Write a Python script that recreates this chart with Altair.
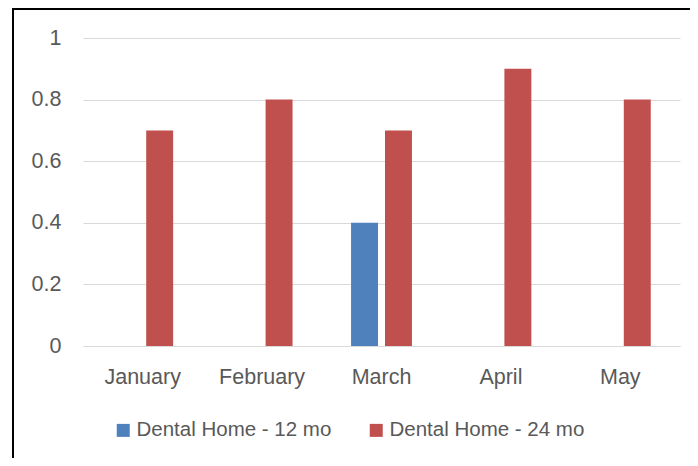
import altair as alt
import pandas as pd

months = ["January", "February", "March", "April", "May"]
series = ["Dental Home - 12 mo", "Dental Home - 24 mo"]
vals_12 = [None, None, 0.4, None, None]
vals_24 = [0.7, 0.8, 0.7, 0.9, 0.8]
colors = ["#4F81BD", "#C0504D"]

rows = []
for m, v in zip(months, vals_12):
    if v is not None:
        rows.append({"month": m, "series": series[0], "value": v})
for m, v in zip(months, vals_24):
    if v is not None:
        rows.append({"month": m, "series": series[1], "value": v})
df = pd.DataFrame(rows)

FONT = "Liberation Sans"
TXT = "#595959"
FS = 21.5

bars = alt.Chart(df).mark_bar(clip=False).encode(
    x=alt.X("month:N", sort=months, scale=alt.Scale(domain=months, paddingInner=0.49, paddingOuter=0.245),
            axis=alt.Axis(title=None, labelAngle=0, labelFont=FONT, labelFontSize=FS, labelColor=TXT,
                          labelPadding=20, ticks=False, domainColor="#d9d9d9", domainWidth=1)),
    xOffset=alt.XOffset("series:N", scale=alt.Scale(domain=series, paddingInner=0.206, paddingOuter=0)),
    y=alt.Y("value:Q", scale=alt.Scale(domain=[0, 1], nice=False),
            axis=alt.Axis(title=None, values=[0, 0.2, 0.4, 0.6, 0.8, 1], format="~g", labelFont=FONT,
                          labelFontSize=FS, labelColor=TXT, labelPadding=22, ticks=False, domain=False,
                          gridColor="#d9d9d9", gridWidth=1)),
    color=alt.Color("series:N", scale=alt.Scale(domain=series, range=colors),
                    legend=alt.Legend(title=None, orient="none", legendX=30, legendY=382, direction="horizontal",
                                      symbolType="square", symbolSize=169, symbolStrokeWidth=0,
                                      labelFont=FONT, labelFontSize=20.5, labelColor=TXT, labelOffset=3,
                                      labelLimit=0, columnPadding=34, padding=0)),
)

left_line = alt.Chart(pd.DataFrame({"a": [0]})).mark_rule(color="black", strokeWidth=2, clip=False).encode(
    x=alt.value(-70), y=alt.value(-30), y2=alt.value(500)
)
top_line = alt.Chart(pd.DataFrame({"a": [0]})).mark_rule(color="black", strokeWidth=2, clip=False).encode(
    x=alt.value(-71), x2=alt.value(700), y=alt.value(-29)
)

chart = alt.layer(bars, left_line, top_line).properties(
    width=597, height=308,
    autosize=alt.AutoSizeParams(type="none"),
    padding={"left": 75, "top": 30, "right": 10, "bottom": 112},
).configure_view(stroke=None)

chart.save("out.html", embed_options={"renderer": "svg", "actions": False})
